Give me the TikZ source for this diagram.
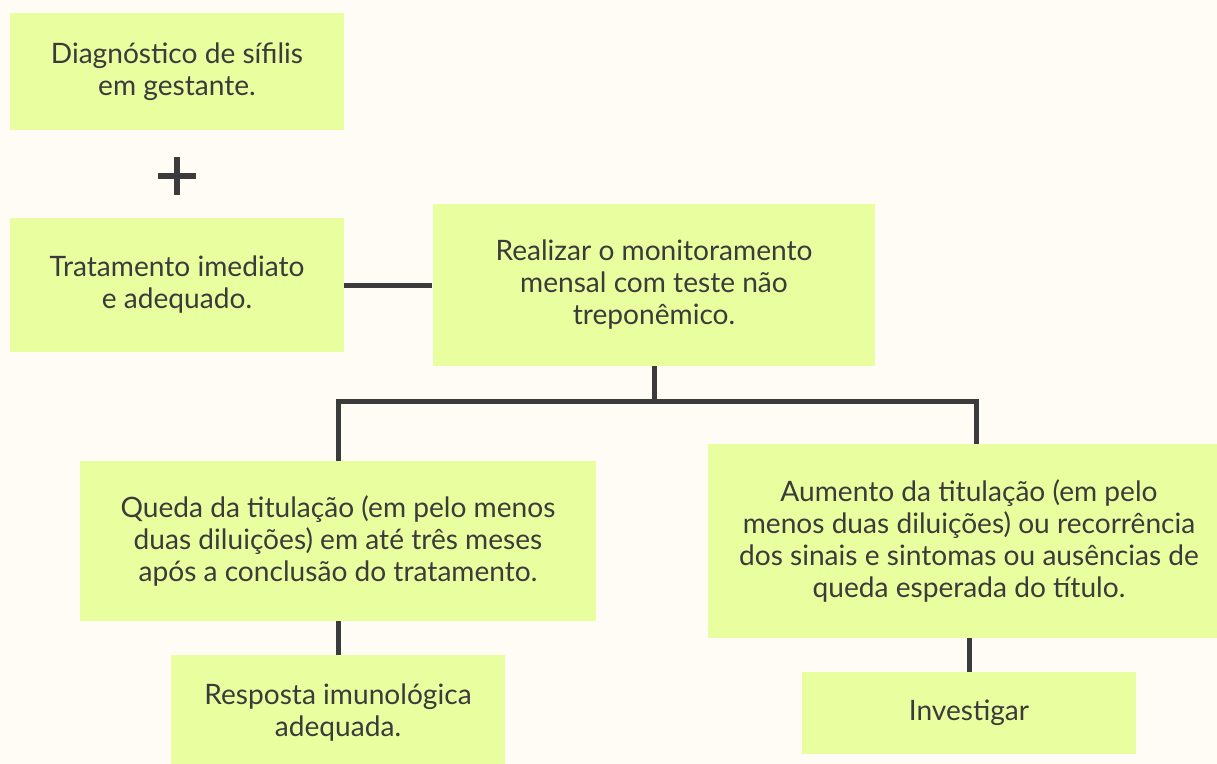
\documentclass[tikz,border=0pt]{standalone}
\usepackage{fontspec}
\setmainfont{Lato}
\definecolor{bgcol}{HTML}{FEFCF5}
\definecolor{boxcol}{HTML}{E9FE9E}
\definecolor{inkcol}{HTML}{3A3B3A}
\tikzset{
  box/.style={fill=boxcol, text=inkcol, align=center, inner sep=0pt,
    font=\fontsize{16}{18.2}\selectfont},
  link/.style={draw=inkcol, line width=0.1cm}
}
\begin{document}
\begin{tikzpicture}[x=0.02cm, y=-0.02cm]
	\useasboundingbox[fill=bgcol] (0,0) rectangle (1217,764);
	\begin{scope}
	\clip (0,0) rectangle (1217,764);
	\node[box, minimum width=6.68cm, minimum height=2.34cm] (diag) at (177,71.5) {Diagnóstico de sífilis\\em gestante.};
	\node[box, minimum width=6.68cm, minimum height=2.68cm] (trat) at (177,285) {Tratamento imediato\\e adequado.};
	\node[box, minimum width=8.86cm, minimum height=3.24cm] (mon) at (654,285) {Realizar o monitoramento\\mensal com teste não\\treponêmico.};
	\node[box, minimum width=10.34cm, minimum height=3.2cm] (queda) at (338,541) {Queda da titulação (em pelo menos\\duas diluições) em até três meses\\após a conclusão do tratamento.};
	\node[box, minimum width=6.68cm, minimum height=2.32cm] (resp) at (338,713) {Resposta imunológica\\adequada.};
	\node[box, minimum width=10.44cm, minimum height=3.88cm] (aum) at (969,541) {Aumento da titulação (em pelo\\menos duas diluições) ou recorrência\\dos sinais e sintomas ou ausências de\\queda esperada do título.};
	\node[box, minimum width=6.68cm, minimum height=1.64cm] (inv) at (969,713) {Investigar};
	\end{scope}
	% sinal de soma
	\draw[link, line width=0.12cm] (158,176) -- (196,176) (177,157) -- (177,195);
	% ligacoes
	\coordinate (split) at (654,401);
	\draw[link] (trat.east) -- (mon.west);
	\draw[link] (mon.south) -- (split);
	\draw[link] (queda.north) |- (split) -| ([xshift=0.14cm]aum.north);
	\draw[link] (queda.south) -- (resp.north);
	\draw[link] (aum.south) -- (inv.north);
\end{tikzpicture}
\end{document}
